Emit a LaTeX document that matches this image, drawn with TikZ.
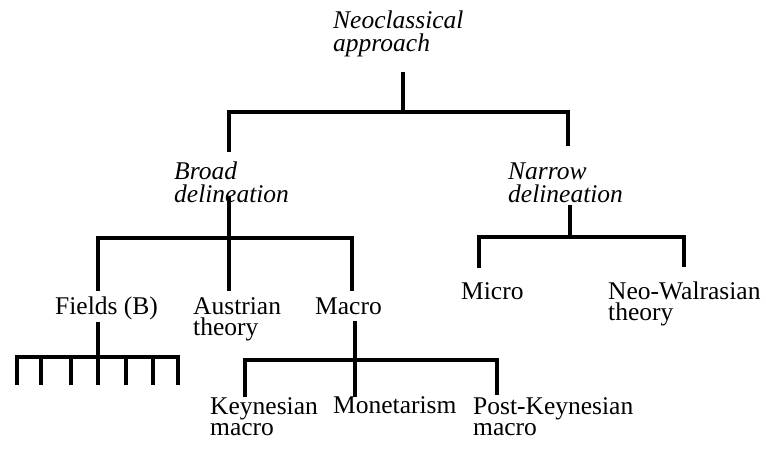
\documentclass[tikz,border=0pt]{standalone}
\usepackage{fontspec}
\setmainfont{Liberation Serif}
\begin{document}
\begin{tikzpicture}[x=1pt,y=-1pt,
  lbl/.style={anchor=base west,inner sep=0pt,align=left,
    font=\fontsize{25.5}{21}\selectfont},
  ilbl/.style={lbl,font=\fontsize{25.5}{23}\selectfont\itshape},
  link/.style={line width=3.2pt,line cap=butt,line join=miter}]
\useasboundingbox (0,0) rectangle (766,452);

% labels (base anchor sits on the last line)
\node[ilbl] (neo)  at (333,52)  {Neoclassical\\approach};
\node[ilbl] (broad) at (174,202) {Broad\\delineation};
\node[ilbl] (narrow) at (508,202) {Narrow\\delineation};
\node[lbl] (fields) at (55,314)  {Fields (B)};
\node[lbl] (aust)   at (193,335) {Austrian\\theory};
\node[lbl] (macro)  at (315,314) {Macro};
\node[lbl] (micro)  at (461,299) {Micro};
\node[lbl] (walras) at (608,320) {Neo-Walrasian\\theory};
\node[lbl] (keyn)   at (210,435) {Keynesian\\macro};
\node[lbl] (monet)  at (333,413) {Monetarism};
\node[lbl] (postk)  at (473,435) {Post-Keynesian\\macro};

% junction points
\coordinate (neoB) at (403,72);
\coordinate (j1) at (403,112);
\coordinate (broadT) at (229,152);
\coordinate (narrowT) at (568,146);
\coordinate (broadB) at (229,196);
\coordinate (j2) at (229,238);
\coordinate (fieldsT) at (98,291);
\coordinate (austT) at (229,291);
\coordinate (macroT) at (352,291);
\coordinate (narrowB) at (570,205);
\coordinate (j3) at (570,237);
\coordinate (microT) at (479,268);
\coordinate (walrasT) at (684,267);
\coordinate (fieldsB) at (98,322);
\coordinate (j4) at (98,357);
\coordinate (macroB) at (355,321);
\coordinate (j5) at (355,360);
\coordinate (keynT) at (245,397);
\coordinate (monetT) at (355,397);
\coordinate (postkT) at (497,395);

% top level
\draw[link] (neoB) -- (j1);
\draw[link] (broadT) |- (j1) -| (narrowT);

% broad delineation
\draw[link] (broadB) -- (austT);
\draw[link] (fieldsT) |- (j2) -| (macroT);

% narrow delineation
\draw[link] (narrowB) -- (j3);
\draw[link] (microT) |- (j3) -| (walrasT);

% fields
\draw[link] (fieldsB) -- (j4);
\draw[link] (17,385) |- (j4) -| (178,385);
\foreach \tx in {41,71,98,126,153}
  \draw[link] (\tx,357) -- (\tx,385);

% macro
\draw[link] (macroB) -- (j5);
\draw[link] (keynT) |- (j5) -| (postkT);
\draw[link] (j5) -- (monetT);
\end{tikzpicture}
\end{document}
